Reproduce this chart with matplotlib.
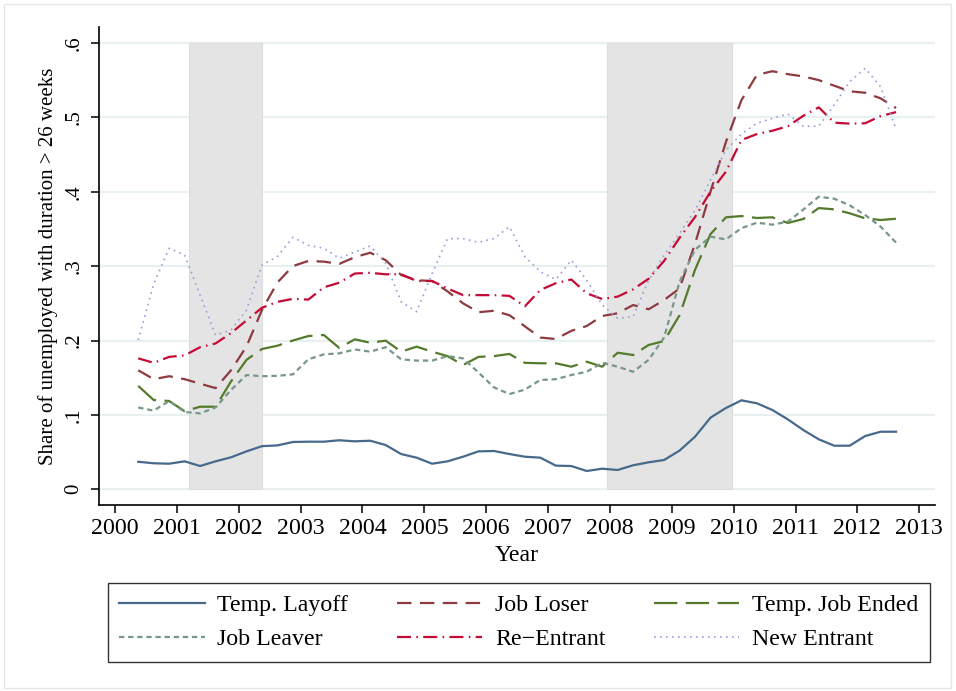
import matplotlib
matplotlib.use("Agg")
import matplotlib.pyplot as plt
from matplotlib.patches import Rectangle
import numpy as np

plt.rcParams['font.family'] = ['Liberation Serif', 'DejaVu Serif']

# ---------------- data ----------------
start_year = 2000.375
n_quarters = 50
dates = start_year + 0.25 * np.arange(n_quarters)

recessions = [(2001.2, 2002.38), (2007.95, 2009.97)]

temp_layoff = [0.037, 0.035, 0.0344, 0.0376, 0.0313, 0.0376, 0.043, 0.051, 0.058, 0.059,
               0.0636, 0.064, 0.064, 0.0659, 0.0645, 0.0653, 0.0595, 0.0474, 0.0425, 0.0344,
               0.0376, 0.0438, 0.051, 0.0515, 0.0474, 0.0438, 0.0425, 0.0318, 0.0313, 0.0246,
               0.0277, 0.026, 0.0323, 0.0363, 0.0394, 0.052, 0.0707, 0.0963, 0.1093, 0.1196,
               0.1156, 0.1066, 0.094, 0.0797, 0.0672, 0.0586, 0.0586, 0.0716, 0.0774, 0.0774]

job_loser = [0.160, 0.148, 0.152, 0.148, 0.142, 0.136, 0.160, 0.192, 0.241, 0.278,
             0.300, 0.307, 0.306, 0.303, 0.312, 0.318, 0.308, 0.288, 0.281, 0.280,
             0.266, 0.250, 0.238, 0.240, 0.234, 0.219, 0.204, 0.202, 0.213, 0.2195,
             0.233, 0.2366, 0.2477, 0.242, 0.2544, 0.270, 0.33, 0.40, 0.467, 0.523,
             0.557, 0.562, 0.558, 0.555, 0.550, 0.5425, 0.535, 0.533, 0.5255, 0.5125]

temp_job_ended = [0.139, 0.120, 0.1187, 0.105, 0.111, 0.111, 0.145, 0.174, 0.1886, 0.193,
                  0.200, 0.206, 0.2074, 0.190, 0.2016, 0.197, 0.1998, 0.185, 0.1917, 0.185,
                  0.179, 0.167, 0.178, 0.179, 0.1819, 0.170, 0.1694, 0.1694, 0.1648, 0.1715,
                  0.1648, 0.1836, 0.1805, 0.194, 0.1993, 0.234, 0.295, 0.343, 0.3656, 0.3673,
                  0.3647, 0.3656, 0.358, 0.3633, 0.378, 0.3763, 0.371, 0.3642, 0.362, 0.3637]

job_leaver = [0.110, 0.1057, 0.1187, 0.104, 0.102, 0.110, 0.1335, 0.1536, 0.152, 0.1525,
              0.1545, 0.1747, 0.1814, 0.1828, 0.188, 0.185, 0.191, 0.1747, 0.173, 0.173,
              0.179, 0.176, 0.157, 0.137, 0.128, 0.134, 0.147, 0.148, 0.1536, 0.158,
              0.170, 0.1648, 0.158, 0.174, 0.204, 0.279, 0.322, 0.3395, 0.336, 0.351,
              0.3584, 0.3557, 0.3597, 0.376, 0.3933, 0.3906, 0.3817, 0.3687, 0.353, 0.3315]

re_entrant = [0.176, 0.170, 0.178, 0.180, 0.191, 0.196, 0.210, 0.227, 0.244, 0.252,
              0.256, 0.255, 0.2715, 0.2777, 0.290, 0.291, 0.289, 0.289, 0.280, 0.280,
              0.270, 0.261, 0.261, 0.261, 0.260, 0.246, 0.268, 0.277, 0.282, 0.2634,
              0.2558, 0.259, 0.2688, 0.283, 0.307, 0.338, 0.366, 0.400, 0.427, 0.4695,
              0.4775, 0.482, 0.488, 0.502, 0.5134, 0.4928, 0.4915, 0.492, 0.5017, 0.507]

new_entrant = [0.2007, 0.276, 0.324, 0.315, 0.261, 0.2074, 0.214, 0.241, 0.3015, 0.313,
               0.3387, 0.328, 0.324, 0.3105, 0.319, 0.327, 0.304, 0.252, 0.2387, 0.290,
               0.337, 0.337, 0.332, 0.337, 0.353, 0.3127, 0.2925, 0.282, 0.308, 0.281,
               0.2477, 0.230, 0.232, 0.281, 0.315, 0.344, 0.375, 0.4157, 0.456, 0.4775,
               0.492, 0.4986, 0.5044, 0.488, 0.488, 0.5165, 0.548, 0.566, 0.541, 0.484]

labels = ["Temp. Layoff", "Job Loser", "Temp. Job Ended",
          "Job Leaver", "Re\u2212Entrant", "New Entrant"]

x_ticks = list(range(2000, 2014))
y_ticks = [0, 0.1, 0.2, 0.3, 0.4, 0.5, 0.6]
y_ticklabels = ["0", ".1", ".2", ".3", ".4", ".5", ".6"]

# ---------------- figure ----------------
W, H = 956, 691
FS_H = 17.2   # horizontal text
FS_V = 15.0   # rotated text
fig = plt.figure(figsize=(W / 100, H / 100), dpi=100)
ax = fig.add_axes([99 / W, 1 - 505 / H, (935 - 99) / W, (505 - 27) / H])

ax.set_xlim(1999.741, 2013.254)
ax.set_ylim(-0.0211, 0.6214)

# gridlines
ax.set_yticks(y_ticks)
ax.grid(axis='y', color='#E8F0F2', lw=1.6, zorder=0)
ax.set_axisbelow(True)

# recession shading
for a, b in recessions:
    ax.fill_between([a, b], 0, 0.6, facecolor='#E4E4E4', edgecolor='#DDDDDD',
                    lw=0.8, zorder=1)

styles = [
    dict(color='#46698C', lw=1.6, ls='-'),
    dict(color='#8E3A40', lw=1.6, ls=(0, (6.5, 3.8))),
    dict(color='#557A2B', lw=1.6, ls=(0, (10.5, 3.8))),
    dict(color='#77978A', lw=1.6, ls=(0, (2.4, 1.7))),
    dict(color='#C40A35', lw=1.6, ls=(0, (6.3, 2.4, 0.7, 2.4))),
    dict(color='#9D9BDB', lw=1.2, ls=(0, (1.0, 2.6))),
]
series = [temp_layoff, job_loser, temp_job_ended, job_leaver, re_entrant, new_entrant]

handles = []
for vals, st, lab in zip(series, styles, labels):
    h, = ax.plot(dates, vals, label=lab, zorder=3, **st)
    handles.append(h)

# axes styling
for s in ['top', 'right']:
    ax.spines[s].set_visible(False)
for s in ['left', 'bottom']:
    ax.spines[s].set_linewidth(1.2)

ax.set_xticks(x_ticks)
ax.set_xticklabels([str(t) for t in x_ticks], fontsize=FS_H)
ax.set_yticklabels(y_ticklabels, fontsize=FS_V, rotation=90, va='center')
ax.tick_params(axis='x', direction='out', length=6, width=1.1, pad=3)
ax.tick_params(axis='y', direction='out', length=6, width=1.1, pad=5)

ax.set_ylabel("Share of unemployed with duration > 26 weeks", fontsize=FS_V, labelpad=5)
ax.set_xlabel("Year", fontsize=FS_H, labelpad=5)

# legend (3 columns, row-wise order)
order = [0, 3, 1, 4, 2, 5]
leg = fig.legend([handles[i] for i in order], [labels[i] for i in order],
                 ncol=3, loc='center', mode='expand',
                 bbox_to_anchor=(108 / W, 1 - 662 / H, (930 - 108) / W, 79 / H),
                 bbox_transform=fig.transFigure, borderaxespad=0,
                 fontsize=FS_H, handlelength=3.56, handletextpad=0.54,
                 labelspacing=0.51, borderpad=0.48, columnspacing=1.0,
                 fancybox=False, frameon=True)
leg.get_frame().set_edgecolor('black')
leg.get_frame().set_linewidth(1.0)

# outer light border of the graph region
fig.patches.append(Rectangle((4 / W, 3 / H), (W - 9) / W, (H - 7) / H,
                             transform=fig.transFigure, fill=False,
                             edgecolor='#E6E6E6', lw=1.0))

fig.savefig("out.png", dpi=100, facecolor='white')
